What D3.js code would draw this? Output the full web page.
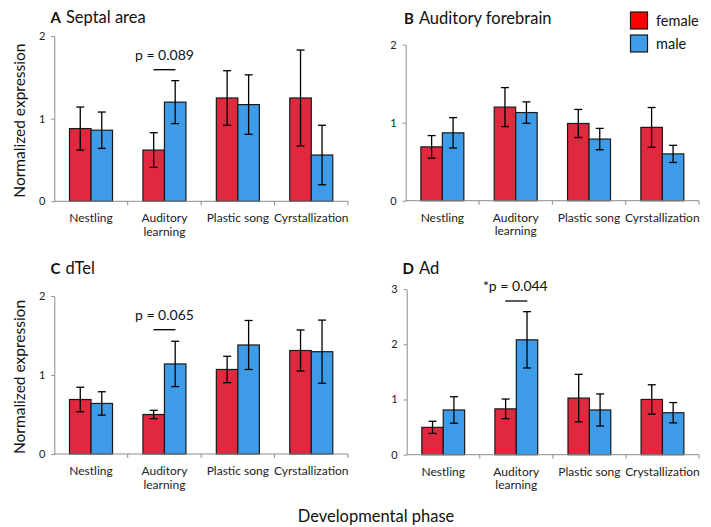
<!DOCTYPE html>
<html><head><meta charset="utf-8">
<script src="https://cdn.jsdelivr.net/npm/d3@7"></script>
<style>
body{margin:0;background:#fff;}
svg{display:block;font-family:Lato,"Open Sans",sans-serif;}
</style></head>
<body><svg id="c" width="711" height="527"></svg>
<script>
const categoriesABC = ["Nestling","Auditory\nlearning","Plastic song","Cyrstallization"];
const categoriesD = ["Nestling","Auditory\nlearning","Plastic song","Crystallization"];
const seriesNames = ["female","male"];

const femaleA = [0.88,0.62,1.25,1.25];
const femaleErrA = [0.26,0.21,0.33,0.58];
const maleA = [0.86,1.20,1.17,0.56];
const maleErrA = [0.22,0.26,0.36,0.36];

const femaleB = [0.69,1.20,0.99,0.94];
const femaleErrB = [0.145,0.25,0.18,0.255];
const maleB = [0.87,1.13,0.79,0.60];
const maleErrB = [0.195,0.137,0.137,0.11];

const femaleC = [0.69,0.50,1.07,1.31];
const femaleErrC = [0.155,0.053,0.167,0.26];
const maleC = [0.64,1.14,1.38,1.295];
const maleErrC = [0.148,0.287,0.31,0.40];

const femaleD = [0.495,0.83,1.025,1.0];
const femaleErrD = [0.11,0.178,0.43,0.266];
const maleD = [0.81,2.08,0.81,0.76];
const maleErrD = [0.24,0.51,0.29,0.184];

const yTicksABC = [0,1,2];
const yTicksD = [0,1,2,3];

const titles = [["A","Septal area"],["B","Auditory forebrain"],["C","dTel"],["D","Ad"]];
const pLabels = ["p = 0.089", null, "p = 0.065", "*p = 0.044"];

const barFill = {female:"#e0283f", male:"#3d9be7"};
const legendFill = {female:"#ff0000", male:"#3d9be7"};

const panels = [
  {cats:categoriesABC, f:femaleA, fe:femaleErrA, m:maleA, me:maleErrA, ticks:yTicksABC, max:2,
   x0:54.3, x1:348, y0:201.3, yTop:36, yLabel:true, pIdx:1, titleY:23, titleX:50.5, pLineY:69.7},
  {cats:categoriesABC, f:femaleB, fe:femaleErrB, m:maleB, me:maleErrB, ticks:yTicksABC, max:2,
   x0:405.7, x1:699, y0:200.7, yTop:44.7, yLabel:false, pIdx:null, titleY:24, titleX:404, pLineY:null},
  {cats:categoriesABC, f:femaleC, fe:femaleErrC, m:maleC, me:maleErrC, ticks:yTicksABC, max:2,
   x0:54.3, x1:348, y0:454, yTop:296, yLabel:true, pIdx:1, titleY:274, titleX:50.5, pLineY:329.7},
  {cats:categoriesD, f:femaleD, fe:femaleErrD, m:maleD, me:maleErrD, ticks:yTicksD, max:3,
   x0:406.7, x1:699, y0:454.7, yTop:289, yLabel:false, pIdx:1, titleY:273.5, titleX:402.5, pLineY:301}
];

const svg = d3.select("#c");

panels.forEach((p, i) => {
  const g = svg.append("g");
  const x = d3.scaleBand().domain(p.cats).range([p.x0, p.x1]).padding(0);
  const xs = d3.scaleBand().domain(seriesNames).range([0, x.bandwidth()]).paddingInner(0).paddingOuter(0.707);
  const y = d3.scaleLinear().domain([0, p.max]).range([p.y0, p.yTop]);

  const data = [];
  p.cats.forEach((c, j) => {
    data.push({c, s:"female", v:p.f[j], e:p.fe[j]});
    data.push({c, s:"male", v:p.m[j], e:p.me[j]});
  });

  // bars
  g.selectAll("rect.bar").data(data).join("rect")
    .attr("x", d => x(d.c) + xs(d.s))
    .attr("y", d => y(d.v))
    .attr("width", xs.bandwidth())
    .attr("height", d => y(0) - y(d.v))
    .attr("fill", d => barFill[d.s])
    .attr("stroke", "#1a1a1a").attr("stroke-width", 1.2);

  // error bars
  const eb = g.selectAll("g.err").data(data).join("g").attr("stroke", "#000").attr("stroke-width", 1.3);
  const cx = d => x(d.c) + xs(d.s) + xs.bandwidth()/2;
  eb.append("line").attr("x1", cx).attr("x2", cx).attr("y1", d => y(d.v + d.e)).attr("y2", d => y(d.v - d.e));
  eb.append("line").attr("x1", d => cx(d)-4).attr("x2", d => cx(d)+4).attr("y1", d => y(d.v + d.e)).attr("y2", d => y(d.v + d.e));
  eb.append("line").attr("x1", d => cx(d)-4).attr("x2", d => cx(d)+4).attr("y1", d => y(d.v - d.e)).attr("y2", d => y(d.v - d.e));

  // y axis
  const ya = g.append("g").attr("transform", `translate(${p.x0},0)`)
    .call(d3.axisLeft(y).tickValues(p.ticks).tickFormat(d3.format("d")).tickSize(3).tickSizeOuter(0));
  ya.select(".domain").attr("stroke", "#8c8c8c");
  ya.selectAll(".tick line").attr("stroke", "#8c8c8c");
  ya.selectAll(".tick text").attr("font-size", 11).attr("fill", "#222").attr("font-family", "Lato,sans-serif").attr("dx", -3);

  // x axis
  const xa = g.append("g").attr("transform", `translate(0,${p.y0})`);
  xa.append("line").attr("x1", p.x0).attr("x2", p.x1).attr("y1", 0).attr("y2", 0).attr("stroke", "#8c8c8c");
  const bounds = p.cats.map(c => x(c)).concat([p.x1]).slice(1);
  xa.selectAll("line.tk").data(bounds).join("line").attr("class","tk")
    .attr("x1", d => d).attr("x2", d => d).attr("y1", 0).attr("y2", 4).attr("stroke", "#8c8c8c");
  p.cats.forEach(c => {
    c.split("\n").forEach((t, k) => {
      xa.append("text").attr("text-anchor", "middle").attr("font-size", 12).attr("fill", "#222")
        .attr("x", x(c) + x.bandwidth()/2).attr("y", 21 + k*13.5).text(t);
    });
  });

  // title
  const t = g.append("text").attr("x", p.titleX).attr("y", p.titleY).attr("font-size", 16.5).attr("fill", "#111");
  t.append("tspan").attr("font-weight", "bold").attr("font-size", 15).text(titles[i][0]);
  t.append("tspan").attr("dx", 5).text(titles[i][1]);

  // y label
  if (p.yLabel) {
    g.append("text").attr("transform", `translate(25,${(p.y0 + p.yTop)/2 + 2}) rotate(-90)`)
      .attr("text-anchor", "middle").attr("font-size", 15.5).attr("fill", "#111").text("Normalized expression");
  }

  // p annotation
  if (pLabels[i]) {
    const c = p.cats[p.pIdx];
    const mid = x(c) + x.bandwidth()/2;
    const ly = p.pLineY;
    g.append("line").attr("x1", mid - 11).attr("x2", mid + 11).attr("y1", ly).attr("y2", ly)
      .attr("stroke", "#000").attr("stroke-width", 1.3);
    g.append("text").attr("x", mid + (i===3 ? -1 : 0)).attr("y", ly - 10).attr("text-anchor", "middle")
      .attr("font-size", 14).attr("fill", "#111").text(pLabels[i]);
  }
});

// legend
const leg = svg.append("g");
seriesNames.forEach((s, k) => {
  leg.append("rect").attr("x", 630.5).attr("y", 12 + k*23).attr("width", 17).attr("height", 17)
    .attr("fill", legendFill[s]).attr("stroke", "#1a1a1a").attr("stroke-width", 1.2);
  leg.append("text").attr("x", 656).attr("y", 25.5 + k*23).attr("font-size", 14.5).attr("fill", "#111").text(s);
});

// x title
svg.append("text").attr("x", 376).attr("y", 522).attr("text-anchor", "middle")
  .attr("font-size", 16.5).attr("fill", "#111").text("Developmental phase");
</script></body></html>
